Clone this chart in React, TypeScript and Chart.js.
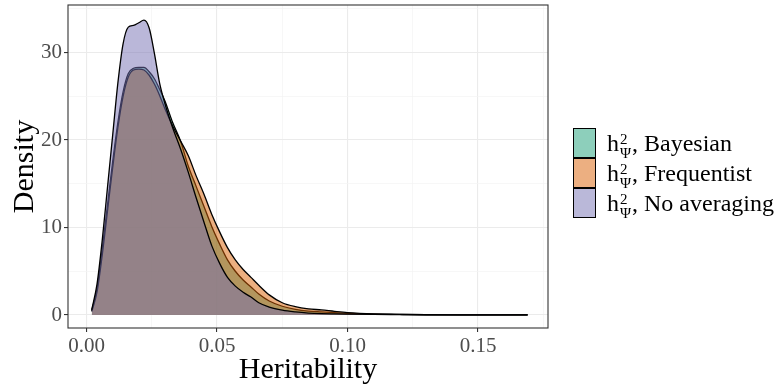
import React, { useEffect, useRef } from "react";
import { Chart, registerables } from "chart.js";

Chart.register(...registerables);

// Heritability grid (shared by all three density estimates)
const heritability = [
  0.002, 0.004, 0.006, 0.008, 0.010, 0.012, 0.014, 0.016, 0.018, 0.020,
  0.022, 0.024, 0.026, 0.028, 0.030, 0.033, 0.036, 0.039, 0.042, 0.045,
  0.048, 0.051, 0.054, 0.057, 0.060, 0.063, 0.066, 0.070, 0.075, 0.080,
  0.085, 0.090, 0.095, 0.100, 0.110, 0.120, 0.130, 0.145, 0.169,
];

const bayesian = [
  0.5, 3.0, 7.5, 12.5, 17.5, 22.0, 25.5, 27.6, 28.2, 28.3,
  28.3, 27.8, 27.0, 25.8, 24.5, 22.0, 19.9, 17.0, 14.7, 12.4,
  10.1, 8.1, 6.3, 5.0, 4.0, 3.2, 2.4, 1.6, 1.0, 0.65,
  0.45, 0.35, 0.26, 0.18, 0.1, 0.06, 0.03, 0.02, 0.01,
];

const frequentist = [
  0.4, 2.6, 6.8, 11.8, 16.8, 21.4, 25.0, 27.2, 28.0, 28.1,
  28.0, 27.4, 26.4, 25.1, 23.6, 21.6, 19.9, 18.2, 15.9, 13.8,
  11.5, 9.5, 7.7, 6.3, 5.2, 4.3, 3.4, 2.3, 1.4, 0.95,
  0.7, 0.58, 0.42, 0.28, 0.13, 0.07, 0.04, 0.02, 0.01,
];

const noAveraging = [
  0.6, 3.5, 8.5, 14.5, 20.5, 26.5, 31.0, 32.9, 33.1, 33.4,
  33.7, 32.8, 29.9, 26.5, 24.2, 21.4, 19.0, 16.3, 13.4, 10.6,
  7.9, 5.9, 4.3, 3.3, 2.6, 2.05, 1.4, 0.9, 0.55, 0.35,
  0.22, 0.15, 0.12, 0.1, 0.07, 0.05, 0.03, 0.02, 0.01,
];

const xTicks = [0, 0.05, 0.1, 0.15];
const xMinorTicks = [0.025, 0.075, 0.125, 0.175];
const yTicks = [0, 10, 20, 30];
const yMinorTicks = [5, 15, 25, 35];

const seriesNames = ["Bayesian", "Frequentist", "No averaging"];
const seriesFill = [
  "rgba(27,158,119,0.5)",
  "rgba(217,95,2,0.5)",
  "rgba(117,112,179,0.5)",
];
const legendFill = ["#8dcfbb", "#ecaf81", "#bab8d9"];

const SERIF = "'Liberation Serif', 'DejaVu Serif', serif";

const toPoints = (ys: number[]) => ys.map((y, i) => ({ x: heritability[i], y }));

const isIn = (list: number[], v: number) => list.some((t) => Math.abs(t - v) < 1e-9);

const panelBorder = {
  id: "panelBorder",
  afterDraw(chart: any) {
    const { ctx, chartArea } = chart;
    ctx.save();
    ctx.strokeStyle = "#333333";
    ctx.lineWidth = 1.1;
    ctx.strokeRect(chartArea.left, chartArea.top, chartArea.right - chartArea.left, chartArea.bottom - chartArea.top);
    ctx.restore();
  },
};

function DensityChart() {
  const ref = useRef<HTMLCanvasElement | null>(null);

  useEffect(() => {
    if (!ref.current) return;
    const values = [bayesian, frequentist, noAveraging];
    const chart = new Chart(ref.current, {
      type: "line",
      data: {
        datasets: values.map((ys, i) => ({
          label: seriesNames[i],
          data: toPoints(ys),
          fill: "origin",
          backgroundColor: seriesFill[i],
          borderColor: "#000000",
          borderWidth: 1.3,
          pointRadius: 0,
          cubicInterpolationMode: "monotone" as const,
          order: 3 - i,
        })),
      },
      options: {
        responsive: false,
        animation: false,
        devicePixelRatio: 1,
        layout: { padding: { left: 0, top: 5, right: 231, bottom: 0 } },
        plugins: {
          legend: { display: false },
          tooltip: { enabled: false },
        },
        scales: {
          x: {
            type: "linear",
            min: -0.0071,
            max: 0.1768,
            afterBuildTicks: (scale: any) => {
              scale.ticks = [...xTicks, ...xMinorTicks].sort((a, b) => a - b).map((value) => ({ value }));
            },
            afterFit: (scale: any) => {
              scale.height = 59;
              scale.paddingLeft = 0;
              scale.paddingRight = 0;
            },
            border: { display: false },
            grid: {
              color: (c: any) => (isIn(xTicks, c.tick?.value) ? "#ebebeb" : "#f4f4f4"),
              lineWidth: (c: any) => (isIn(xTicks, c.tick?.value) ? 1.1 : 0.7),
              tickColor: (c: any) => (isIn(xTicks, c.tick?.value) ? "#333333" : "rgba(0,0,0,0)"),
              tickLength: 4,
              tickWidth: 1.1,
            },
            ticks: {
              color: "#4d4d4d",
              font: { family: SERIF, size: 21 },
              padding: 2,
              maxRotation: 0,
              autoSkip: false,
              callback: (v: any) => (isIn(xTicks, Number(v)) ? Number(v).toFixed(2) : ""),
            },
            title: {
              display: true,
              text: "Heritability",
              color: "#000000",
              font: { family: SERIF, size: 30, lineHeight: 1 },
              padding: { top: 0, bottom: 2 },
            },
          },
          y: {
            type: "linear",
            min: -1.486,
            max: 35.43,
            afterBuildTicks: (scale: any) => {
              scale.ticks = [...yTicks, ...yMinorTicks].sort((a, b) => a - b).map((value) => ({ value }));
            },
            afterFit: (scale: any) => {
              scale.width = 68;
              scale.paddingTop = 0;
              scale.paddingBottom = 0;
            },
            border: { display: false },
            grid: {
              color: (c: any) => (isIn(yTicks, c.tick?.value) ? "#ebebeb" : "#f4f4f4"),
              lineWidth: (c: any) => (isIn(yTicks, c.tick?.value) ? 1.1 : 0.7),
              tickColor: (c: any) => (isIn(yTicks, c.tick?.value) ? "#333333" : "rgba(0,0,0,0)"),
              tickLength: 4,
              tickWidth: 1.1,
            },
            ticks: {
              color: "#4d4d4d",
              font: { family: SERIF, size: 21 },
              padding: 2,
              autoSkip: false,
              callback: (v: any) => (isIn(yTicks, Number(v)) ? String(v) : ""),
            },
            title: {
              display: true,
              text: "Density",
              color: "#000000",
              font: { family: SERIF, size: 30, lineHeight: 1 },
              padding: { top: 10, bottom: 0 },
            },
          },
        },
      },
      plugins: [panelBorder],
    });
    return () => chart.destroy();
  }, []);

  return <canvas ref={ref} width={779} height={387} style={{ position: "absolute", left: 0, top: 0 }} />;
}

function LegendLabel({ name }: { name: string }) {
  return (
    <div style={{ marginLeft: 11, fontFamily: SERIF, fontSize: 24, lineHeight: "24px", whiteSpace: "nowrap", color: "#000" }}>
      h
      <span style={{ display: "inline-block", position: "relative", width: 13, height: 24, verticalAlign: "top" }}>
        <span style={{ position: "absolute", left: 1, top: 1, fontSize: 15, lineHeight: "15px" }}>2</span>
        <span style={{ position: "absolute", left: 1, top: 15, fontSize: 15, lineHeight: "15px" }}>Ψ</span>
      </span>
      , {name}
    </div>
  );
}

export default function App() {
  return (
    <div style={{ position: "fixed", left: 0, top: 0, width: 779, height: 387, background: "#ffffff", overflow: "hidden" }}>
      <DensityChart />
      <div style={{ position: "absolute", left: 573, top: 128 }}>
        {seriesNames.map((name, i) => (
          <div key={name} style={{ display: "flex", alignItems: "center", height: 30 }}>
            <div style={{ width: 23, height: 30, boxSizing: "border-box", border: "1.2px solid #000", background: legendFill[i] }} />
            <LegendLabel name={name} />
          </div>
        ))}
      </div>
    </div>
  );
}
